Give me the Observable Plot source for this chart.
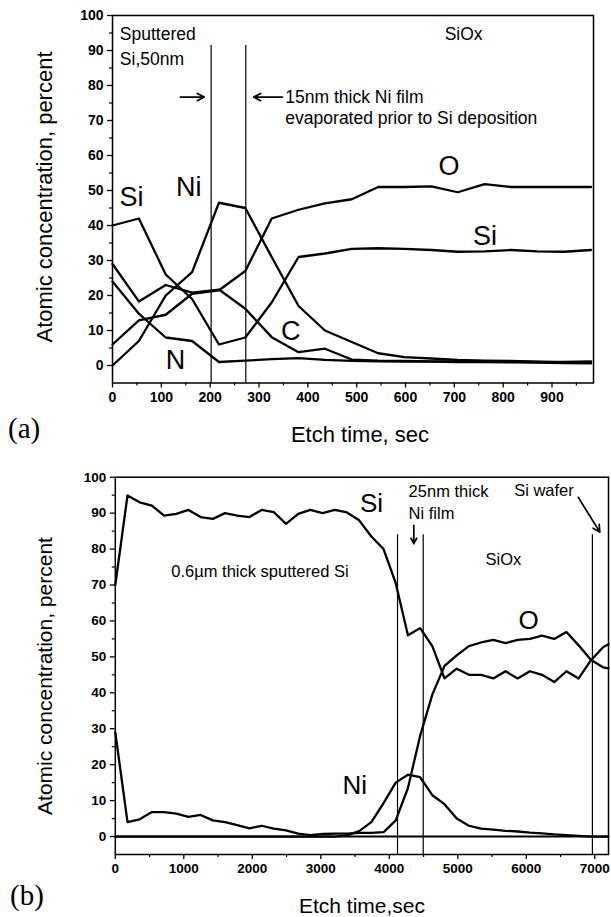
<!DOCTYPE html>
<html><head><meta charset="utf-8">
<script src="https://cdn.jsdelivr.net/npm/d3@7"></script>
<script src="https://cdn.jsdelivr.net/npm/@observablehq/plot@0.6"></script>
<style>
html,body{margin:0;padding:0;background:#fff;}
#wrap{position:relative;width:611px;height:917px;overflow:hidden;font-family:"Liberation Sans",Arial,sans-serif;}
#wrap > svg{position:absolute;left:0;}
</style></head><body><div id="wrap"></div>
<script>
// ---------- Panel (a) data ----------
const timeA = [0,54,109,163,218,272,326,381,435,490,544,598,653,707,762,816,870,925,980];
const siA = [40,42,26,19,6,8,18,31,32,33.3,33.5,33.3,33,32.5,32.6,33,32.6,32.5,33];
const niA = [0,7,20,26.7,46.5,45,31,17,10,6.7,3.5,2.4,2,1.6,1.4,1.3,1.1,0.9,0.8];
const oA  = [6,12.9,14.5,20.5,21.5,27,42,44.5,46.3,47.5,51,51,51.2,49.5,51.8,51,51,51,51];
const cA  = [29,18.3,23,20.8,21.7,16.2,8.1,3.8,4.8,1.7,1.4,1.3,1.2,1.2,1.1,1.1,1,1,1.2];
const nA  = [24,14.8,8,7,1,1.4,1.8,2.1,1.6,1.3,1.2,1.1,1.1,1,1,0.9,0.8,0.7,0.6];
const boundsA = [202, 273];
const yTicks = [0,10,20,30,40,50,60,70,80,90,100];
const yMinor = [5,15,25,35,45,55,65,75,85,95];
const xTicksA = [0,100,200,300,400,500,600,700,800,900];
const xMinorA = [50,150,250,350,450,550,650,750,850,950];
const elemLabelsA = [
  {x: 39, y: 48, text: "Si"}, {x: 156, y: 51, text: "Ni"}, {x: 129, y: 1.4, text: "N"},
  {x: 365, y: 9.7, text: "C"}, {x: 689, y: 57, text: "O"}, {x: 763, y: 37, text: "Si"}
];
const notesStartA = [
  {x: 15, y: 94.6, text: "Sputtered"},
  {x: 15, y: 87.4, text: "Si,50nm"},
  {x: 354, y: 76.7, text: "15nm thick Ni film"},
  {x: 354, y: 70.7, text: "evaporated prior to Si deposition"}
];
const notesMidA = [
  {x: 719, y: 94.5, text: "SiOx"}
];
const arrowsA = [
  {x1: 139, y1: 76.7, x2: 188, y2: 76.7},
  {x1: 348, y1: 76.7, x2: 289, y2: 76.7}
];

// ---------- Panel (b) data ----------
const timeB = [0,178,356,534,712,890,1068,1246,1424,1602,1780,1958,2136,2314,2492,2670,2848,3026,3204,3382,3560,3738,3916,4094,4272,4450,4628,4806,4984,5162,5340,5518,5696,5874,6052,6230,6408,6586,6764,6942,7120,7200];
const siB = [70,94.9,93,92.1,89.3,89.8,90.9,88.9,88.4,90,89.3,88.9,90.9,90.3,87,89.8,90.9,90,90.9,90.2,88,83.5,80,70.5,56,58,53,44,46.7,45,45,44,46,44,46,45,43,46,44,49,52.7,53.5];
const oB  = [29,4,4.8,6.8,6.8,6.4,5.5,6,4.5,4,3.2,2.3,3,2.2,1.7,0.8,0.4,0.7,0.8,0.8,1,1,1.2,4.5,13.5,28,39.5,47.5,50.4,53,54,54.7,53.8,54.7,55,55.9,55,56.9,53.2,49.2,47.1,46.8];
const niB = [0,0,0,0,0,0,0,0,0,0,0,0,0,0,0,0,0,0,0,0.3,1.5,4,9.3,15,17.2,16.5,11.5,9,5,3,2.2,1.9,1.6,1.4,1.1,0.9,0.6,0.4,0.2,0,0,0];
const boundsB = [4120, 4495, 6965];
const xTicksB = [0,1000,2000,3000,4000,5000,6000,7000];
const xMinorB = [500,1500,2500,3500,4500,5500,6500];
const elemLabelsB = [
  {x: 3740, y: 92.7, text: "Si"}, {x: 3495, y: 14.2, text: "Ni"}, {x: 6034, y: 60.1, text: "O"}
];
const notesStartB = [
  {x: 4282, y: 96, text: "25nm thick"},
  {x: 4282, y: 89.9, text: "Ni film"}
];
const notesMidB = [
  {x: 2112, y: 73.6, text: "0.6\u00b5m thick sputtered Si"},
  {x: 5667, y: 77.1, text: "SiOx"},
  {x: 6258, y: 96.3, text: "Si wafer"}
];
const arrowsB = [
  {x1: 4358, y1: 86.6, x2: 4358, y2: 81.5},
  {x1: 6759, y1: 94.4, x2: 7073, y2: 84.7}
];

function longRows(t, series) {
  const out = [];
  for (const [el, vals] of Object.entries(series)) vals.forEach((v, i) => out.push({t: t[i], v, el}));
  return out;
}
const rowsA = longRows(timeA, {Si: siA, Ni: niA, O: oA, C: cA, N: nA});
const rowsB = longRows(timeB, {Si: siB, O: oB, Ni: niB});

const FONT = "'Liberation Sans', Arial, Helvetica, sans-serif";

function panel({rows, xDomain, xTicks, xMinor, bounds, boundTop, labels, notesStart, notesMid, arrows, height, margins, zeroRule, tickFont, noteFont, labelFont}) {
  return Plot.plot({
    width: 611, height,
    marginTop: margins[0], marginRight: margins[1], marginBottom: margins[2], marginLeft: margins[3],
    x: {domain: xDomain},
    y: {domain: [-5, 100]},
    style: {fontFamily: FONT, fontSize: tickFont + "px", fontWeight: "bold", color: "black", background: "transparent", overflow: "visible"},
    marks: [
      Plot.axisY({ticks: yTicks, tickSize: 5, tickPadding: 4, label: null, tickFormat: d => String(d), strokeWidth: 1.3}),
      Plot.axisY({ticks: yMinor, tickSize: 3, tickFormat: () => "", label: null, strokeWidth: 1.2}),
      Plot.axisX({ticks: xTicks, tickSize: 5, tickPadding: 4, label: null, tickFormat: d => String(d), strokeWidth: 1.3}),
      Plot.axisX({ticks: xMinor, tickSize: 3, tickFormat: () => "", label: null, strokeWidth: 1.2}),
      zeroRule ? Plot.ruleY([0], {strokeWidth: 2}) : null,
      Plot.ruleX(bounds, {x: d => d, y1: boundTop, y2: -5, strokeWidth: 1.2}),
      Plot.line(rows, {x: "t", y: "v", z: "el", stroke: "black", strokeWidth: 2.3, strokeLinejoin: "round"}),
      Plot.arrow(arrows, {x1: "x1", y1: "y1", x2: "x2", y2: "y2", strokeWidth: 1.7, headLength: 7, headAngle: 55}),
      Plot.text(notesStart, {x: "x", y: "y", text: "text", textAnchor: "start", fontSize: noteFont, fontWeight: "normal", fill: "black"}),
      Plot.text(notesMid, {x: "x", y: "y", text: "text", textAnchor: "middle", fontSize: noteFont, fontWeight: "normal", fill: "black"}),
      Plot.text(labels, {x: "x", y: "y", text: "text", fontSize: labelFont, fontWeight: "normal", fill: "black"}),
      Plot.frame({strokeWidth: 1.5})
    ]
  });
}

const wrap = document.getElementById("wrap");
const svgA = panel({rows: rowsA, xDomain: [0, 985], xTicks: xTicksA, xMinor: xMinorA, bounds: boundsA, boundTop: 91.4,
  labels: elemLabelsA, notesStart: notesStartA, notesMid: notesMidA, arrows: arrowsA, height: 445,
  margins: [15, 18, 62.5, 112], zeroRule: false, tickFont: 14, noteFont: 17.5, labelFont: 27});
svgA.style.top = "0px";
wrap.appendChild(svgA);

const svgB = panel({rows: rowsB, xDomain: [0, 7200], xTicks: xTicksB, xMinor: xMinorB, bounds: boundsB, boundTop: 84,
  labels: elemLabelsB, notesStart: notesStartB, notesMid: notesMidB, arrows: arrowsB, height: 477,
  margins: [36.7, 3, 63, 114.8], zeroRule: true, tickFont: 13.5, noteFont: 16.5, labelFont: 26});
svgB.style.top = "440px";
wrap.appendChild(svgB);

// titles overlay
const ov = d3.select(wrap).append("svg").attr("width", 611).attr("height", 917).style("top", "0px")
  .style("pointer-events", "none").attr("font-family", FONT);
const titles = [
  {x: 44, y: 197, text: "Atomic concentration, percent", rot: -90, size: 22},
  {x: 360, y: 434, text: "Etch time, sec", rot: 0, size: 22},
  {x: 44, y: 676, text: "Atomic concentration, percent", rot: -90, size: 21},
  {x: 362, y: 905, text: "Etch time,sec", rot: 0, size: 21}
];
ov.selectAll("text.t").data(titles).join("text").attr("class", "t")
  .attr("transform", d => `translate(${d.x},${d.y}) rotate(${d.rot})`)
  .attr("text-anchor", "middle").attr("dominant-baseline", "central")
  .attr("font-size", d => d.size).text(d => d.text);
const panelTags = [{x: 8, y: 428, text: "(a)"}, {x: 10, y: 895, text: "(b)"}];
ov.selectAll("text.p").data(panelTags).join("text").attr("class", "p")
  .attr("x", d => d.x).attr("y", d => d.y).attr("dominant-baseline", "central")
  .attr("font-family", "'Liberation Serif', 'Times New Roman', serif").attr("font-size", 29).text(d => d.text);
</script></body></html>
